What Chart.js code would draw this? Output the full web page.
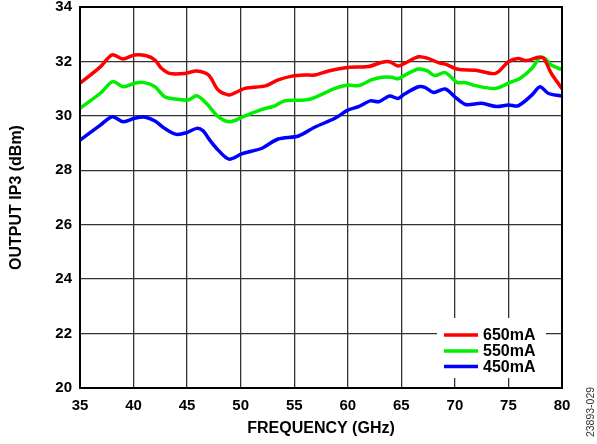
<!DOCTYPE html>
<html>
<head>
<meta charset="utf-8">
<script src="https://cdn.jsdelivr.net/npm/chart.js@4.4.0/dist/chart.umd.min.js"></script>
<style>
  html, body { margin: 0; padding: 0; background: #fff; }
  #wrap { width: 597px; height: 444px; position: relative; }
</style>
</head>
<body>
<div id="wrap"><canvas id="c" width="597" height="444"></canvas></div>
<script>
// ---- Data ----
const seriesLabels = ['650mA', '550mA', '450mA'];
const seriesColors = ['#ff0000', '#00ee00', '#0000ff'];

const freq650 = [35, 36.9, 38.0, 39.0, 40.1, 41.2, 42.0, 42.6, 43.4, 44.8, 45.9, 47.0, 47.9, 48.9, 49.5, 50.4, 52.3, 53.5, 54.8, 56.0, 56.9, 58.2, 60.0, 61.9, 63.2, 63.9, 64.7, 65.3, 66.6, 67.5, 68.5, 69.1, 70.3, 71.9, 73.8, 75.0, 75.9, 76.7, 77.8, 78.3, 79.0, 80];
const ip3_650 = [31.2, 31.8, 32.24, 32.09, 32.24, 32.21, 32.05, 31.75, 31.56, 31.56, 31.65, 31.5, 30.95, 30.77, 30.85, 31.01, 31.1, 31.32, 31.46, 31.5, 31.5, 31.65, 31.78, 31.81, 31.97, 31.99, 31.83, 31.93, 32.17, 32.11, 31.95, 31.9, 31.71, 31.68, 31.56, 31.99, 32.11, 32.03, 32.15, 32.11, 31.56, 31.0];

const freq550 = [35, 36.9, 38.05, 39.05, 40.1, 40.9, 42.0, 42.9, 43.9, 45.1, 45.9, 46.8, 47.9, 49.0, 50.4, 52.0, 53.2, 54.1, 56.0, 56.9, 58.8, 60.0, 61.0, 62.2, 63.2, 64.1, 64.7, 65.2, 66.6, 67.4, 68.1, 69.1, 70.2, 71.0, 71.9, 73.8, 75.15, 76.1, 77.2, 77.95, 78.4, 79.0, 80];
const ip3_550 = [30.28, 30.83, 31.26, 31.07, 31.2, 31.23, 31.07, 30.7, 30.62, 30.58, 30.74, 30.46, 29.97, 29.78, 30.0, 30.24, 30.37, 30.55, 30.58, 30.67, 31.01, 31.13, 31.11, 31.32, 31.42, 31.42, 31.36, 31.47, 31.72, 31.66, 31.48, 31.59, 31.23, 31.22, 31.11, 31.01, 31.23, 31.38, 31.75, 32.15, 32.11, 31.87, 31.7];

const freq450 = [35, 36.9, 38.0, 39.05, 40.1, 41.1, 42.0, 42.9, 44.0, 45.0, 45.9, 46.5, 47.0, 47.9, 48.9, 50.1, 51.0, 52.0, 53.5, 55.4, 56.9, 58.8, 60.0, 61.0, 62.1, 62.9, 63.9, 64.7, 65.3, 66.6, 67.2, 68.0, 69.1, 70.0, 71.0, 72.5, 73.9, 75.0, 75.9, 77.2, 77.95, 78.7, 79.8, 80];
const ip3_450 = [29.11, 29.66, 29.97, 29.78, 29.91, 29.95, 29.81, 29.54, 29.32, 29.39, 29.54, 29.45, 29.17, 28.74, 28.41, 28.6, 28.7, 28.81, 29.15, 29.26, 29.58, 29.91, 30.21, 30.34, 30.55, 30.52, 30.73, 30.64, 30.8, 31.07, 31.05, 30.86, 30.99, 30.7, 30.42, 30.46, 30.34, 30.4, 30.37, 30.77, 31.07, 30.83, 30.74, 30.74];

const xTicks = [35, 40, 45, 50, 55, 60, 65, 70, 75, 80];
const yTicks = [20, 22, 24, 26, 28, 30, 32, 34];
const xTitle = 'FREQUENCY (GHz)';
const yTitle = 'OUTPUT IP3 (dBm)';
const sideNote = '23893-029';

const FONT = '"Liberation Sans", Arial, Helvetica, sans-serif';

function pts(xs, ys) { return xs.map((x, i) => ({ x: x, y: ys[i] })); }
const allX = [freq650, freq550, freq450];
const allY = [ip3_650, ip3_550, ip3_450];

const datasets = seriesLabels.map((lab, i) => ({
  label: lab,
  data: pts(allX[i], allY[i]),
  borderColor: seriesColors[i],
  backgroundColor: seriesColors[i],
  borderWidth: 3.5,
  pointRadius: 0,
  tension: 0.3,
  fill: false
}));

const overlay = {
  id: 'overlay',
  afterDatasetsDraw(chart) {
    const ctx = chart.ctx;
    const a = chart.chartArea;
    ctx.save();
    // legend box
    ctx.fillStyle = '#fff';
    ctx.fillRect(437, 318, 109, 60);
    ctx.font = 'bold 16px ' + FONT;
    ctx.textBaseline = 'middle';
    ctx.textAlign = 'left';
    const rows = [335, 351, 366.5];
    chart.data.datasets.forEach((ds, i) => {
      ctx.strokeStyle = ds.borderColor;
      ctx.lineWidth = 3.5;
      ctx.beginPath();
      ctx.moveTo(444, rows[i]);
      ctx.lineTo(478, rows[i]);
      ctx.stroke();
      ctx.fillStyle = '#000';
      ctx.fillText(ds.label, 483, rows[i] + 1);
    });
    // frame
    ctx.strokeStyle = '#000';
    ctx.lineWidth = 2;
    ctx.strokeRect(a.left, a.top, a.right - a.left, a.bottom - a.top);
    // side note
    ctx.translate(591, 412);
    ctx.rotate(-Math.PI / 2);
    ctx.font = '10.5px ' + FONT;
    ctx.fillStyle = '#333';
    ctx.textAlign = 'center';
    ctx.fillText(sideNote, 0, 0);
    ctx.restore();
  }
};

new Chart(document.getElementById('c'), {
  type: 'line',
  data: { datasets: datasets },
  options: {
    responsive: false,
    animation: false,
    events: [],
    layout: { padding: { left: 0, right: 35, top: 0, bottom: 0 } },
    plugins: { legend: { display: false }, tooltip: { enabled: false } },
    scales: {
      x: {
        type: 'linear',
        min: 35, max: 80,
        afterBuildTicks(s) { s.ticks = xTicks.map(v => ({ value: v })); },
        afterFit(s) { s.height = 56; },
        grid: { color: '#333', lineWidth: 1.3, drawTicks: false },
        border: { display: false },
        ticks: { color: '#000', font: { family: FONT, size: 15, weight: 'bold' }, padding: 9, maxRotation: 0 },
        title: { display: true, text: xTitle, color: '#000', font: { family: FONT, size: 16, weight: 'bold' }, padding: { top: 0, bottom: 6 } }
      },
      y: {
        type: 'linear',
        min: 20, max: 34,
        afterBuildTicks(s) { s.ticks = yTicks.map(v => ({ value: v })); },
        afterFit(s) { s.width = 80; s.paddingTop = 7; s.paddingBottom = 7; },
        grid: { color: '#333', lineWidth: 1.3, drawTicks: false },
        border: { display: false },
        ticks: { color: '#000', font: { family: FONT, size: 15, weight: 'bold' }, padding: 8 },
        title: { display: true, text: yTitle, color: '#000', font: { family: FONT, size: 16, weight: 'bold' }, padding: { top: 7, bottom: 0 } }
      }
    }
  },
  plugins: [overlay]
});
</script>
</body>
</html>
